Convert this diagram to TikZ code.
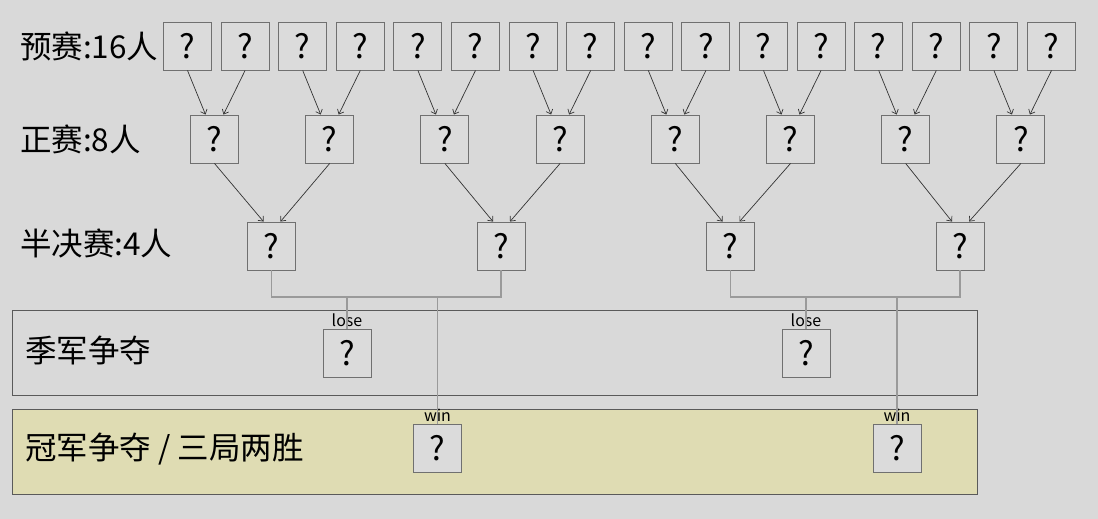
\documentclass[tikz,border=0pt]{standalone}
\usepackage{fontspec}
\setmainfont{Noto Sans CJK SC}
\usetikzlibrary{arrows.meta}
\definecolor{bg}{HTML}{D9D9D9}
\definecolor{boxfill}{HTML}{DBDBDB}
\definecolor{boxline}{HTML}{707070}
\definecolor{panelline}{HTML}{5A5A5A}
\definecolor{champ}{HTML}{DFDCB3}
\definecolor{bracketc}{HTML}{9A9A9A}
\tikzset{
  qbox/.style={draw=boxline, fill=boxfill, line width=0.9pt, minimum width=48pt, minimum height=48pt, inner sep=0pt, font=\fontsize{33}{33}\selectfont},
  feed/.style={draw=black!80, line width=0.7pt, -{Straight Barb[length=4pt,width=7pt]}},
  bracket/.style={draw=bracketc, line width=1.3pt},
  panel/.style={draw=panelline, line width=0.9pt, minimum width=965pt, minimum height=85pt, anchor=north west, inner sep=0pt},
  rowlabel/.style={anchor=west, inner sep=0pt, font=\fontsize{31.5}{31.5}\selectfont},
  small/.style={inner sep=0pt, font=\fontsize{16}{16}\selectfont}
}
\begin{document}
\begin{tikzpicture}[x=1pt,y=-1pt]
\fill[bg] (0,0) rectangle (1098,519);
\useasboundingbox (0,0) rectangle (1098,519);
% panels
\node[panel] (thirdpanel) at (12,310) {};
\node[panel, fill=champ] (champpanel) at (12,409) {};
% row labels
\node[rowlabel] (lab1) at (20,46) {预赛:16人};
\node[rowlabel] (lab2) at (20,139) {正赛:8人};
\node[rowlabel] (lab3) at (20,243) {半决赛:4人};
\node[rowlabel] (lab4) at (25,350) {季军争夺};
\node[rowlabel] (lab5) at (25,449) {冠军争夺 / 三局两胜};
% nodes
\foreach \i in {1,...,16} {
  \node[qbox] (p\i) at ({187.5+57.6*(\i-1)},46) {?};
}
\foreach \k in {1,...,8} {
  \node[qbox] (q\k) at ({214.5+115.2*(\k-1)},139) {?};
}
\foreach \k in {1,...,4} {
  \node[qbox] (r\k) at ({271.5+229.5*(\k-1)},246) {?};
}
\node[qbox] (l1) at (347,353) {?};
\node[qbox] (l2) at (806,353) {?};
\node[qbox] (w1) at (437.5,448) {?};
\node[qbox] (w2) at (897,448) {?};
\node[small, anchor=south] (lt1) at (347,327) {lose};
\node[small, anchor=south] (lt2) at (806,327) {lose};
\node[small, anchor=south] (wt1) at (437.5,422) {win};
\node[small, anchor=south] (wt2) at (897,422) {win};
% arrows
\foreach \k in {1,...,8} {
  \pgfmathtruncatemacro{\a}{2*\k-1}
  \pgfmathtruncatemacro{\b}{2*\k}
  \draw[feed] (p\a.south) -- ([xshift=-9pt]q\k.north);
  \draw[feed] (p\b.south) -- ([xshift=9pt]q\k.north);
}
\foreach \k in {1,...,4} {
  \pgfmathtruncatemacro{\a}{2*\k-1}
  \pgfmathtruncatemacro{\b}{2*\k}
  \draw[feed] (q\a.south) -- ([xshift=-8pt]r\k.north);
  \draw[feed] (q\b.south) -- ([xshift=9pt]r\k.north);
}
% brackets
\coordinate (j1) at (386,297);
\coordinate (j2) at (845.5,297);
\draw[bracket] (r1.south) |- (j1) -| (r2.south);
\draw[bracket] (r3.south) |- (j2) -| (r4.south);
\draw[bracket] (l1.north) -- (l1.north |- j1);
\draw[bracket] (w1.north) -- (w1.north |- j1);
\draw[bracket] (l2.north) -- (l2.north |- j2);
\draw[bracket] (w2.north) -- (w2.north |- j2);
% redraw boxes on top of lines
\foreach \n in {l1,l2,w1,w2} {
  \node[qbox] at (\n) {?};
}
\end{tikzpicture}
\end{document}
